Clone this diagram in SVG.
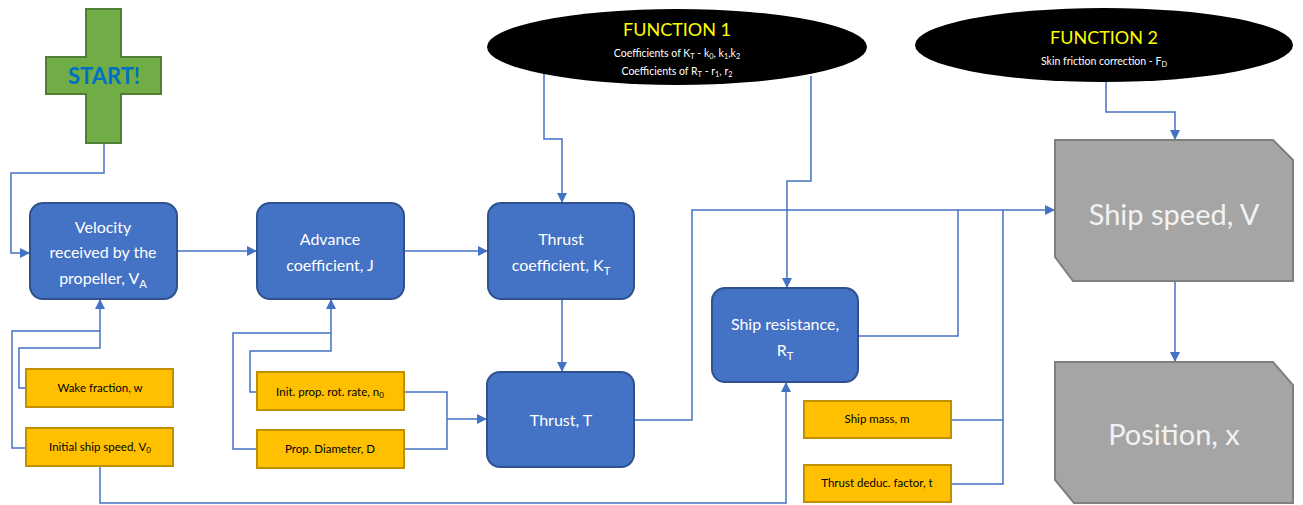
<svg xmlns="http://www.w3.org/2000/svg" width="1303" height="505" viewBox="0 0 1303 505">
<style>
.blue{fill:#4472c4;stroke:#2f528f;stroke-width:2}
.yel{fill:#ffc000;stroke:#bf9000;stroke-width:2}
.gray{fill:#a5a5a5;stroke:#7f7f7f;stroke-width:2}
.ell{fill:#000}
.wt{font-family:Lato,"Liberation Sans",sans-serif;font-size:16px;fill:#fff;text-anchor:middle}
.bt{font-family:Lato,"Liberation Sans",sans-serif;font-size:11.5px;fill:#000;text-anchor:middle}
.big{font-family:Lato,"Liberation Sans",sans-serif;font-size:29px;fill:#f2f2f2;text-anchor:middle}
.fn{font-family:Lato,"Liberation Sans",sans-serif;font-size:18px;fill:#ffff00;text-anchor:middle}
.fs{font-family:Lato,"Liberation Sans",sans-serif;font-size:10.5px;fill:#fff;text-anchor:middle}
.sub{font-size:70%}
.conn path{fill:none;stroke:#4472c4;stroke-width:1.5}
</style>
<defs>
<marker id="arr" markerUnits="userSpaceOnUse" markerWidth="12" markerHeight="12" refX="10" refY="6" orient="auto">
<path d="M0,1 L10,6 L0,11 Z" fill="#4472c4"/>
</marker>
</defs>
<g class="conn">
<path d="M104,143 V173 H11 V253 H30" marker-end="url(#arr)"/>
<path d="M177,251 H257" marker-end="url(#arr)"/>
<path d="M404,251 H488" marker-end="url(#arr)"/>
<path d="M544,74 V139 H562 V203" marker-end="url(#arr)"/>
<path d="M811,76 V181 H787 V288" marker-end="url(#arr)"/>
<path d="M562,299 V372" marker-end="url(#arr)"/>
<path d="M634,420 H692 V210 H1055" marker-end="url(#arr)"/>
<path d="M858,336 H958 V210"/>
<path d="M951,420 H1003"/>
<path d="M951,484 H1003 V210"/>
<path d="M1106,82 V112 H1175 V140" marker-end="url(#arr)"/>
<path d="M1175,281 V362" marker-end="url(#arr)"/>
<path d="M26,388 H19 V348 H100 V299" marker-end="url(#arr)"/>
<path d="M26,448 H12 V331 H100"/>
<path d="M100,466 V503 H786 V382" marker-end="url(#arr)"/>
<path d="M257,392 H250 V351 H331 V299" marker-end="url(#arr)"/>
<path d="M257,449 H233 V333 H331"/>
<path d="M404,392 H447 V449 H404"/>
<path d="M447,419 H487" marker-end="url(#arr)"/>
</g>
<g id="start">
<path d="M86,9 H121 V57 H161 V94 H121 V143 H86 V94 H46 V57 H86 Z" fill="#70ad47" stroke="#507e32" stroke-width="2"/>
<text x="104" y="84" font-family="Lato,'Liberation Sans',sans-serif" font-size="22" font-weight="bold" fill="#0070c0" text-anchor="middle">START!</text>
</g>
<g id="function1">
<ellipse class="ell" cx="677" cy="47" rx="190" ry="38"/>
<text class="fn" x="677" y="36">FUNCTION 1</text>
<text class="fs" x="677" y="57">Coefficients of K<tspan class="sub" dy="2">T</tspan><tspan dy="-2"> - k</tspan><tspan class="sub" dy="2">0</tspan><tspan dy="-2">, k</tspan><tspan class="sub" dy="2">1</tspan><tspan dy="-2">,k</tspan><tspan class="sub" dy="2">2</tspan></text>
<text class="fs" x="677" y="75">Coefficients of R<tspan class="sub" dy="2">T</tspan><tspan dy="-2"> - r</tspan><tspan class="sub" dy="2">1</tspan><tspan dy="-2">, r</tspan><tspan class="sub" dy="2">2</tspan></text>
</g>
<g id="function2">
<ellipse class="ell" cx="1104" cy="45" rx="189" ry="37"/>
<text class="fn" x="1104" y="44">FUNCTION 2</text>
<text class="fs" x="1104" y="65">Skin friction correction - F<tspan class="sub" dy="2">D</tspan></text>
</g>
<g id="velocity">
<rect class="blue" x="30" y="203" width="147" height="96" rx="13"/>
<text class="wt" x="103" y="233">Velocity</text>
<text class="wt" x="103" y="258">received by the</text>
<text class="wt" x="103" y="284">propeller, V<tspan class="sub" dy="4">A</tspan></text>
</g>
<g id="advance">
<rect class="blue" x="257" y="203" width="147" height="96" rx="13"/>
<text class="wt" x="330" y="245">Advance</text>
<text class="wt" x="330" y="271">coefficient, J</text>
</g>
<g id="thrustcoef">
<rect class="blue" x="488" y="203" width="146" height="96" rx="13"/>
<text class="wt" x="561" y="245">Thrust</text>
<text class="wt" x="561" y="271">coefficient, K<tspan class="sub" dy="4">T</tspan></text>
</g>
<g id="thrust">
<rect class="blue" x="487" y="372" width="147" height="95" rx="13"/>
<text class="wt" x="561" y="426">Thrust, T</text>
</g>
<g id="resistance">
<rect class="blue" x="712" y="288" width="146" height="94" rx="13"/>
<text class="wt" x="785" y="330">Ship resistance,</text>
<text class="wt" x="785" y="356">R<tspan class="sub" dy="4">T</tspan></text>
</g>
<g id="wake">
<rect class="yel" x="26" y="369" width="147" height="38"/>
<text class="bt" x="100" y="392">Wake fraction, w</text>
</g>
<g id="initspeed">
<rect class="yel" x="26" y="428" width="147" height="38"/>
<text class="bt" x="100" y="451">Initial ship speed, V<tspan class="sub" dy="2">0</tspan></text>
</g>
<g id="initrot">
<rect class="yel" x="257" y="372" width="147" height="38"/>
<text class="bt" x="330" y="396">Init. prop. rot. rate, n<tspan class="sub" dy="2">0</tspan></text>
</g>
<g id="diameter">
<rect class="yel" x="257" y="430" width="147" height="38"/>
<text class="bt" x="330" y="453">Prop. Diameter, D</text>
</g>
<g id="mass">
<rect class="yel" x="804" y="401" width="147" height="37"/>
<text class="bt" x="877" y="423">Ship mass, m</text>
</g>
<g id="deduction">
<rect class="yel" x="804" y="465" width="147" height="37"/>
<text class="bt" x="877" y="487">Thrust deduc. factor, t</text>
</g>
<g id="shipspeed">
<path class="gray" d="M1055,140 H1273 L1293,160 V281 H1073 L1055,257 Z"/>
<text class="big" x="1174" y="225">Ship speed, V</text>
</g>
<g id="position">
<path class="gray" d="M1055,362 H1273 L1293,385 V503 H1074 L1055,480 Z"/>
<text class="big" x="1174" y="445">Position, x</text>
</g>
</svg>
